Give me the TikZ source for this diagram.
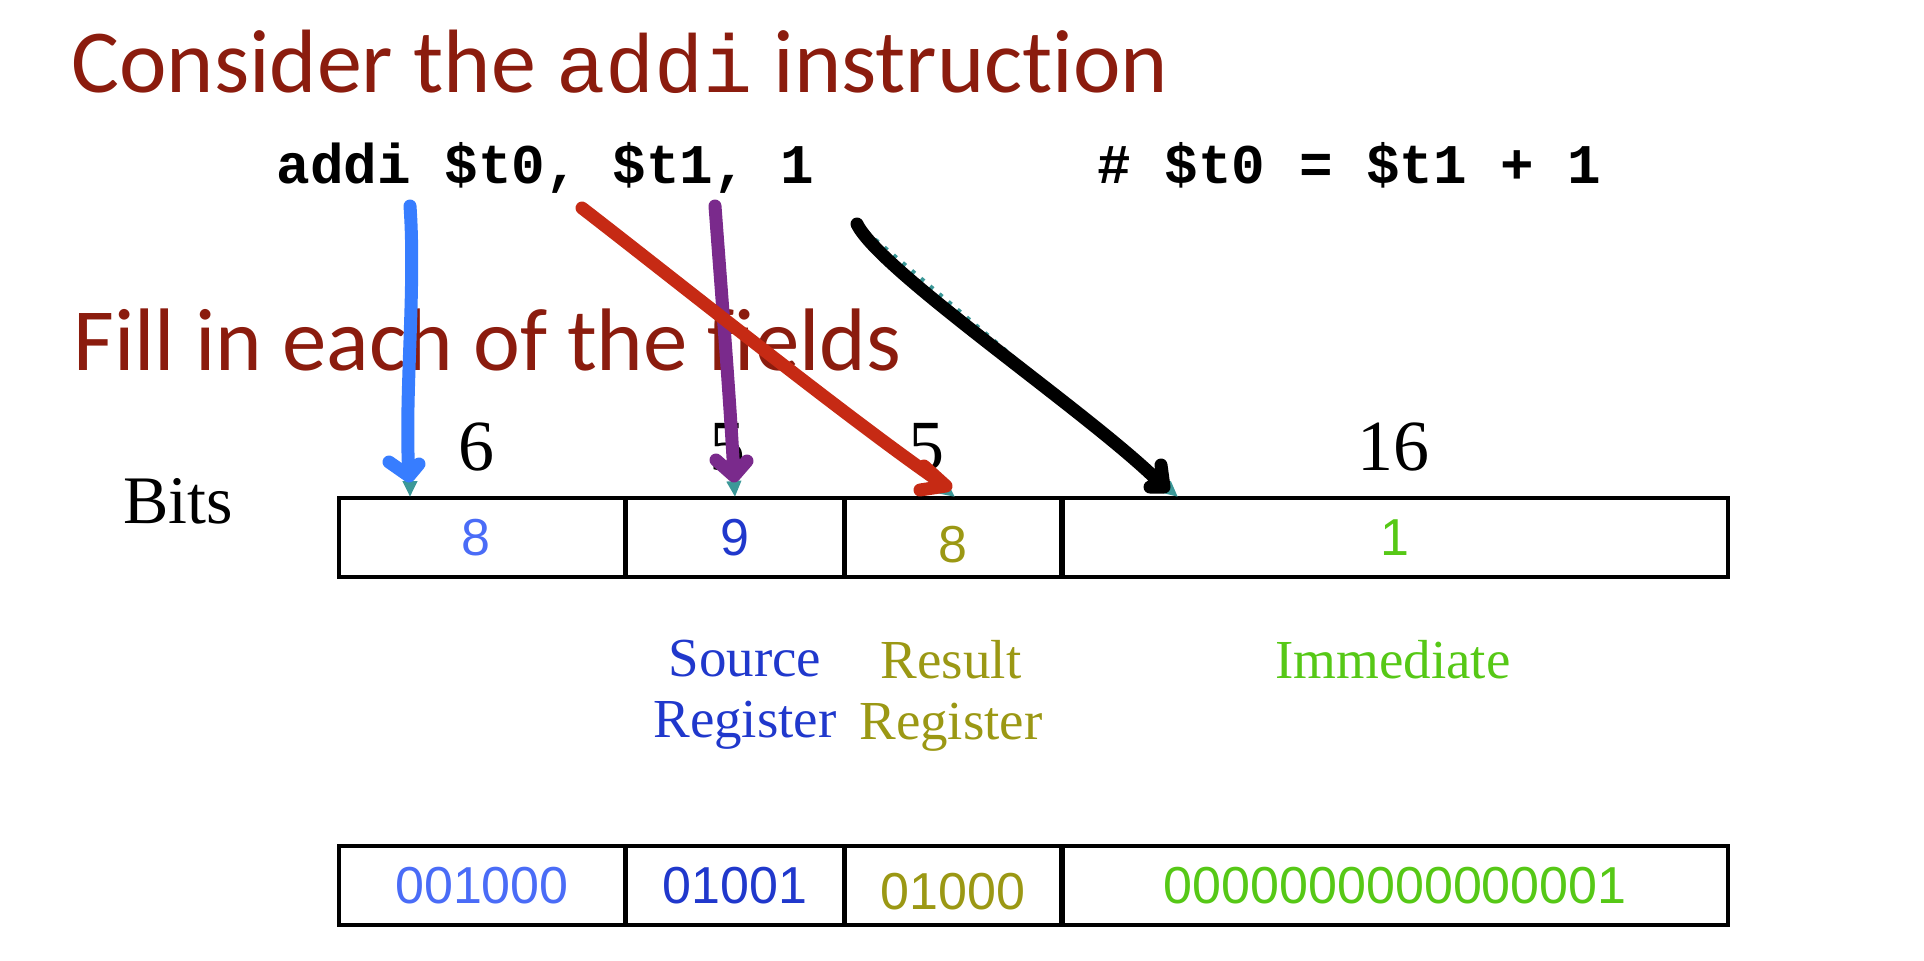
\documentclass[tikz,border=0pt]{standalone}
\usepackage{fontspec}
\setmainfont{Liberation Serif}
\newfontfamily\titlefont[Ligatures={NoCommon},Contextuals={NoAlternate}]{Carlito}
\newfontfamily\codefont{Liberation Mono}
\newfontfamily\numfont{Liberation Sans}
\usetikzlibrary{arrows.meta}
\definecolor{ctitle}{RGB}{139,28,14}
\definecolor{cop}{RGB}{74,108,247}
\definecolor{crs}{RGB}{32,56,204}
\definecolor{crt}{RGB}{155,152,20}
\definecolor{cimm}{RGB}{86,200,22}
\definecolor{pblue}{RGB}{55,125,255}
\definecolor{ppurple}{RGB}{122,42,140}
\definecolor{pred}{RGB}{198,42,20}
\definecolor{cteal}{RGB}{60,152,152}
\tikzset{%
  field/.style n args={2}{draw,line width=1.8pt,outer sep=0.4pt,inner sep=0pt,
    minimum height=39.5pt,minimum width=#1,text=#2,
    font=\numfont\fontsize{26}{30}\selectfont},
  heading/.style={anchor=base west,inner sep=0pt,text=ctitle,
    font=\titlefont\fontsize{45}{54}\selectfont},
  bitnum/.style={anchor=base,inner sep=0pt,font=\fontsize{36}{40}\selectfont},
  fieldname/.style={anchor=north,align=center,inner sep=0pt,text=#1,
    font=\fontsize{27.5}{30.5}\selectfont},
  pen/.style={draw=#1,line width=6.5pt,line cap=round,line join=round},
  guide/.style={cteal,line width=2pt,dash pattern=on 2pt off 4pt,
    -{Triangle[length=8pt,width=7pt]}}
}
\begin{document}
\begin{tikzpicture}[x=0.5pt,y=-0.5pt]
  \useasboundingbox (0,0) rectangle (1924,960);
  % Headings
  \node[heading] (title) at (71,92)
    {Consider the {\codefont\fontsize{41}{50}\selectfont addi} instruction};
  \node[anchor=base west,inner sep=0pt,font=\codefont\bfseries\fontsize{28}{32}\selectfont]
    (code) at (276,183) {addi \$t0, \$t1, 1};
  \node[anchor=base west,inner sep=0pt,font=\codefont\bfseries\fontsize{28}{32}\selectfont]
    (comment) at (1097,183) {\# \$t0 = \$t1 + 1};
  \node[heading,font=\titlefont\fontsize{44.4}{54}\selectfont] (fill) at (73,370)
    {Fill in each of the fields};
  % Bit counts
  \node[anchor=base west,inner sep=0pt,font=\fontsize{34}{40}\selectfont]
    (bits) at (123,523) {Bits};
  \node[bitnum] (n1) at (476,470) {6};
  \node[bitnum] (n2) at (727,470) {5};
  \node[bitnum] (n3) at (926,470) {5};
  \node[bitnum] (n4) at (1393,470) {16};
  % Decimal fields
  \node[field={143pt}{cop}] (f1) at (482,537.5) {\hspace*{-6pt}8};
  \node[field={108.5pt}{crs},anchor=west] (f2) at (f1.east) {9};
  \node[field={108pt}{crt},anchor=west] (f3) at (f2.east) {\raisebox{-3.5pt}[\height][\depth]{8}};
  \node[field={332.5pt}{cimm},anchor=west] (f4) at (f3.east) {1};
  % Field names
  \node[fieldname=crs] (lrs) at (745,640) {Source\\Register};
  \node[fieldname=crt] (lrt) at (951,640) {Result\\Register};
  \node[fieldname=cimm] (limm) at (1393,640) {Immediate};
  % Binary fields
  \node[field={143pt}{cop}] (b1) at (482,885.5) {001000};
  \node[field={108.5pt}{crs},anchor=west] (b2) at (b1.east) {01001};
  \node[field={108pt}{crt},anchor=west] (b3) at (b2.east) {\raisebox{-3pt}[\height][\depth]{01000}};
  \node[field={332.5pt}{cimm},anchor=west] (b4) at (b3.east) {0000000000000001};
  % Connectors
  \coordinate (ops) at (410,206);
  \coordinate (ope) at (410,497);
  \coordinate (opt) at (409,476);
  \coordinate (rss) at (715,206);
  \coordinate (rse) at (735,497);
  \coordinate (rst) at (734,476);
  \coordinate (rts) at (582,208);
  \coordinate (rte) at (955,497);
  \coordinate (rtt) at (946,486);
  \coordinate (imms) at (857,224);
  \coordinate (imme) at (1178,497);
  \coordinate (immt) at (1164,487);
  \draw[guide] (ops) -- (ope);
  \draw[guide] (rss) -- (rse);
  \draw[guide] (rts) -- (rte);
  \draw[guide] (imms) -- (imme);
  % Hand strokes
  \draw[pen=pblue] (ops) .. controls (416,290) and (404,400) .. (opt)
    -- ++(-20,-14) ++(20,14) -- ++(10,-12);
  \draw[pen=ppurple] (rss) .. controls (722,300) and (730,400) .. (rst)
    -- ++(-18,-16) ++(18,16) -- ++(13,-15);
  \draw[pen=pred] (rts) .. controls (660,268) and (860,428) .. (rtt)
    -- ++(-22,-20) ++(22,20) -- ++(-26,4);
  \draw[pen=black] (imms) .. controls (880,272) and (1100,420) .. (immt)
    -- ++(-3,-22) ++(3,22) -- ++(-14,0);
\end{tikzpicture}
\end{document}
